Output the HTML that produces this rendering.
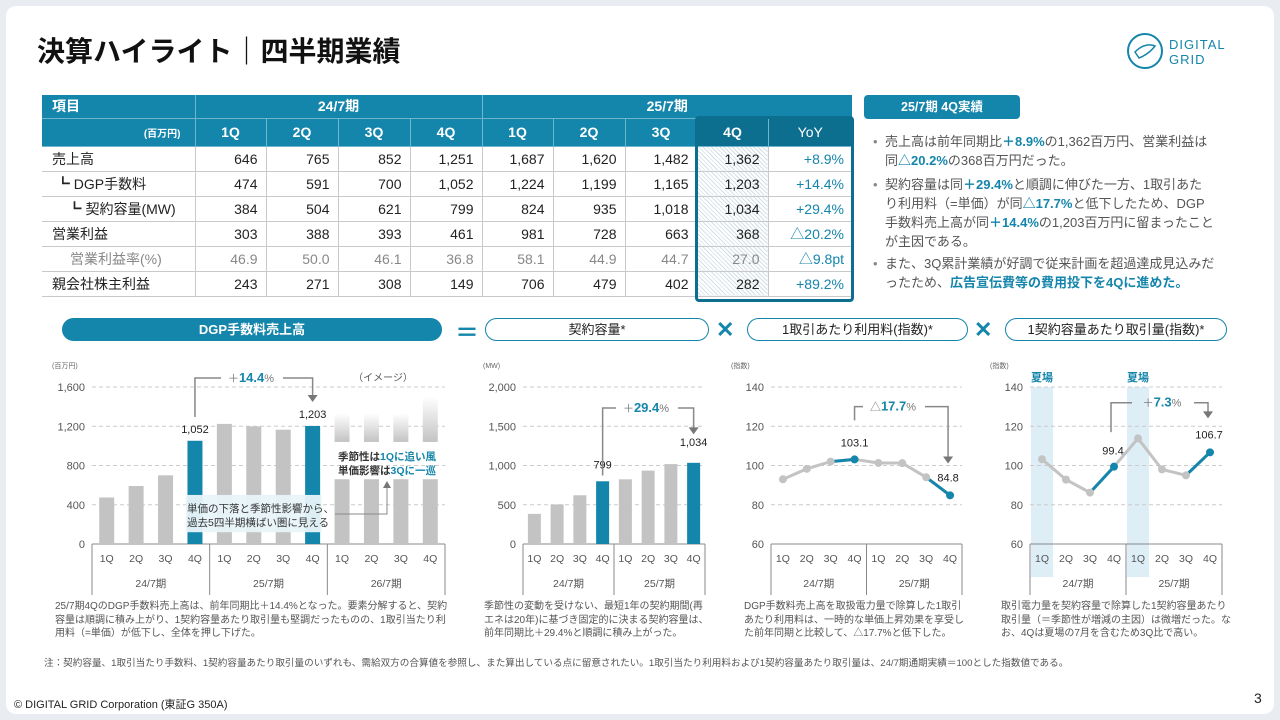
<!DOCTYPE html>
<html><head><meta charset="utf-8">
<style>
*{margin:0;padding:0;box-sizing:border-box}
body{width:1280px;height:720px;background:#e9edf1;font-family:"Liberation Sans","Noto Sans CJK JP",sans-serif;position:relative;overflow:hidden;color:#333}
#card{position:absolute;left:6px;top:6px;width:1268px;height:708px;background:#fff;border-radius:10px}
.abs{position:absolute}
h1{position:absolute;left:37px;top:30px;font-size:28px;font-weight:bold;color:#111;letter-spacing:0px}
table{position:absolute;left:42px;top:95px;border-collapse:collapse;font-size:14px}
td,th{height:25px;border-bottom:1px solid #c9c9c9;border-left:1px solid #c9c9c9;text-align:right;padding-right:8px;font-weight:normal;color:#222}
th{background:#1485ab;color:#fff;font-weight:bold;text-align:center;border-left:1px solid #6fb5cc;border-bottom:1px solid #6fb5cc;padding:0}
tr.h1 th{height:23px}
tr.h2 th{height:28px}
td.l{text-align:left;padding-left:10px;border-left:none}
tr.g td{color:#888}
.pill{position:absolute;top:318px;height:23px;border:1px solid #1485ab;border-radius:12px;font-size:13px;text-align:center;line-height:21px;color:#222}
.desc{position:absolute;top:600px;font-size:10px;line-height:13.5px;color:#555}
.bl{position:absolute;left:873px;font-size:13px;line-height:19px;color:#555;width:342px;padding-left:12px}
.bl:before{content:"•";position:absolute;left:0;color:#888}
.bl b{color:#1485ab}
</style></head><body>
<div id="card"></div>
<h1>決算ハイライト｜四半期業績</h1>
<div class="abs" style="left:1125px;top:30px;width:120px;height:42px">
<svg width="40" height="42" style="position:absolute;left:0;top:0"><circle cx="20" cy="21" r="17" fill="none" stroke="#1485ab" stroke-width="2"/><path d="M10 22 Q20 12 30 16 Q24 24 14 28 Z" fill="none" stroke="#1485ab" stroke-width="1.5"/></svg>
<div style="position:absolute;left:44px;top:7px;font-size:13px;color:#1485ab;line-height:15px;letter-spacing:1px">DIGITAL<br>GRID</div></div>

<table>
<tr class="h1"><th style="text-align:left;padding-left:10px;width:153px;border-left:none">項目</th><th colspan="4">24/7期</th><th colspan="5" style="border-right:none">25/7期</th></tr>
<tr class="h2"><th style="text-align:right;padding-right:14px;font-size:10px;border-left:none">(百万円)</th><th style="width:71px">1Q</th><th style="width:72px">2Q</th><th style="width:72px">3Q</th><th style="width:72px">4Q</th><th style="width:71px">1Q</th><th style="width:72px">2Q</th><th style="width:72px">3Q</th><th style="width:71px;background:#0c6f8f">4Q</th><th style="width:84px;background:#0c6f8f;font-weight:normal">YoY</th></tr>
<tr><td class="l">売上高</td><td>646</td><td>765</td><td>852</td><td>1,251</td><td>1,687</td><td>1,620</td><td>1,482</td><td class="hx">1,362</td><td style="color:#1485ab">+8.9%</td></tr>
<tr><td class="l">&nbsp;┗ DGP手数料</td><td>474</td><td>591</td><td>700</td><td>1,052</td><td>1,224</td><td>1,199</td><td>1,165</td><td class="hx">1,203</td><td style="color:#1485ab">+14.4%</td></tr>
<tr><td class="l">&nbsp;&nbsp;&nbsp;&nbsp;┗ 契約容量(MW)</td><td>384</td><td>504</td><td>621</td><td>799</td><td>824</td><td>935</td><td>1,018</td><td class="hx">1,034</td><td style="color:#1485ab">+29.4%</td></tr>
<tr><td class="l">営業利益</td><td>303</td><td>388</td><td>393</td><td>461</td><td>981</td><td>728</td><td>663</td><td class="hx">368</td><td style="color:#1485ab">△20.2%</td></tr>
<tr class="g"><td class="l" style="padding-left:28px">営業利益率(%)</td><td>46.9</td><td>50.0</td><td>46.1</td><td>36.8</td><td>58.1</td><td>44.9</td><td>44.7</td><td class="hx">27.0</td><td style="color:#1485ab">△9.8pt</td></tr>
<tr><td class="l">親会社株主利益</td><td>243</td><td>271</td><td>308</td><td>149</td><td>706</td><td>479</td><td>402</td><td class="hx">282</td><td style="color:#1485ab">+89.2%</td></tr>
</table>
<style>td.hx{background:repeating-linear-gradient(45deg,#fff 0 2px,#d4e0e6 2px 3px)}</style>
<div class="abs" style="left:695px;top:116px;width:159px;height:186px;border:3px solid #0c6f8f;border-radius:4px"></div>

<div class="abs" style="left:864px;top:95px;width:156px;height:24px;background:#1485ab;border-radius:4px;color:#fff;font-weight:bold;font-size:12.5px;text-align:center;line-height:24px">25/7期 4Q実績</div>
<div class="bl" style="top:132px">売上高は前年同期比<b>＋8.9%</b>の1,362百万円、営業利益は同<b>△20.2%</b>の368百万円だった。</div>
<div class="bl" style="top:175px">契約容量は同<b>＋29.4%</b>と順調に伸びた一方、1取引あたり利用料（=単価）が同<b>△17.7%</b>と低下したため、DGP手数料売上高が同<b>＋14.4%</b>の1,203百万円に留まったことが主因である。</div>
<div class="bl" style="top:254px">また、3Q累計業績が好調で従来計画を超過達成見込みだったため、<b>広告宣伝費等の費用投下を4Qに進めた。</b></div>

<div class="pill" style="left:62px;width:380px;background:#1485ab;color:#fff;font-weight:bold">DGP手数料売上高</div>
<div class="abs" style="left:455px;top:313px;font-size:24px;font-weight:bold;color:#1485ab">＝</div>
<div class="pill" style="left:485px;width:224px">契約容量*</div>
<div class="abs" style="left:716px;top:317px;font-size:22px;font-weight:bold;color:#1485ab">✕</div>
<div class="pill" style="left:747px;width:221px">1取引あたり利用料(指数)*</div>
<div class="abs" style="left:974px;top:317px;font-size:22px;font-weight:bold;color:#1485ab">✕</div>
<div class="pill" style="left:1005px;width:222px">1契約容量あたり取引量(指数)*</div>

<svg id="ch" class="abs" style="left:0;top:0" width="1280" height="720"></svg>

<div class="desc" style="left:55px;width:398px">25/7期4QのDGP手数料売上高は、前年同期比＋14.4%となった。要素分解すると、契約容量は順調に積み上がり、1契約容量あたり取引量も堅調だったものの、1取引当たり利用料（=単価）が低下し、全体を押し下げた。</div>
<div class="desc" style="left:484px;width:225px">季節性の変動を受けない、最短1年の契約期間(再エネは20年)に基づき固定的に決まる契約容量は、前年同期比＋29.4%と順調に積み上がった。</div>
<div class="desc" style="left:744px;width:225px">DGP手数料売上高を取扱電力量で除算した1取引あたり利用料は、一時的な単価上昇効果を享受した前年同期と比較して、△17.7%と低下した。</div>
<div class="desc" style="left:1001px;width:230px">取引電力量を契約容量で除算した1契約容量あたり取引量（＝季節性が増減の主因）は微増だった。なお、4Qは夏場の7月を含むため3Q比で高い。</div>
<div class="abs" style="left:44px;top:655px;font-size:9.6px;color:#555;white-space:nowrap">注：契約容量、1取引当たり手数料、1契約容量あたり取引量のいずれも、需給双方の合算値を参照し、また算出している点に留意されたい。1取引当たり利用料および1契約容量あたり取引量は、24/7期通期実績＝100とした指数値である。</div>
<div class="abs" style="left:14px;top:696px;font-size:11px;color:#222">© DIGITAL GRID Corporation (東証G 350A)</div>
<div class="abs" style="left:1254px;top:690px;font-size:14px;color:#222">3</div>

<script>
const quarters=['1Q','2Q','3Q','4Q'];
const periods1=['24/7期','25/7期','26/7期'];
const periods2=['24/7期','25/7期'];
const dgpFee=[474,591,700,1052,1224,1199,1165,1203];
const dgpTicks=[0,400,800,1200,1600];
const capacity=[384,504,621,799,824,935,1018,1034];
const capTicks=[0,500,1000,1500,2000];
const feeIndex=[93.0,98.3,102.0,103.1,101.3,101.2,94.0,84.8];
const volIndex=[103.2,92.8,86.2,99.4,113.8,98.0,95.0,106.7];
const idxTicks=[60,80,100,120,140];

const S=document.getElementById('ch'),NS='http://www.w3.org/2000/svg';
function mk(tag,at,txt){const e=document.createElementNS(NS,tag);for(const k in at)e.setAttribute(k,at[k]);if(txt!=null)e.textContent=txt;S.appendChild(e);return e;}
const BLUE='#1485ab',GRAY='#c3c3c3';
const Y0=544,YT=387;
function axis(x0,x1,vmin,vmax,ticks,unit,nper,nname,pre){
  const y=v=>Y0-(v-vmin)/(vmax-vmin)*(Y0-YT);
  const n=nper*4,w=(x1-x0)/n;
  const x=i=>x0+w*(i+0.5);
  if(pre)pre(x,y);
  ticks.forEach(t=>{
    if(t!==vmin){const g=mk('line',{x1:x0,x2:x1,y1:y(t),y2:y(t),stroke:'#ccc','stroke-dasharray':'4,3'});
    }
    const l=mk('text',{x:x0-7,y:y(t)+4,'text-anchor':'end','font-size':11,fill:'#555'},t.toLocaleString('en-US'));
    
  });
  const u=mk('text',{x:x0-40,y:368,'font-size':7,fill:'#666'},unit);
  
  mk('line',{x1:x0,x2:x1,y1:Y0,y2:Y0,stroke:'#888'});
  for(let p=0;p<=nper;p++){const xx=x0+p*4*w;mk('line',{x1:xx,x2:xx,y1:Y0,y2:595,stroke:'#888'});}
  for(let i=0;i<n;i++){const t=mk('text',{x:x(i),y:562,'text-anchor':'middle','font-size':10.5,fill:'#555'},quarters[i%4]);
    }
  const pl=nper===3?periods1:periods2;
  for(let p=0;p<nper;p++){const t=mk('text',{x:x0+(p*4+2)*w,y:587,'text-anchor':'middle','font-size':10.5,fill:'#555'},pl[p]);
    }
  return {x,y,w};
}
function bracket(xa,ya,xb,yb,yTop,label,num,cx,nname){
  const p=mk('path',{d:`M${xa} ${ya} V${yTop} H${cx-30} M${cx+32} ${yTop} H${xb} V${yb-6}`,fill:'none',stroke:'#888','stroke-width':1.5});
  
  mk('path',{d:`M${xb-5} ${yb-7} L${xb+5} ${yb-7} L${xb} ${yb} Z`,fill:'#777'});
  const t=mk('text',{x:cx,y:yTop+4,'text-anchor':'middle','font-size':11,fill:'#777'});
  
  const a=document.createElementNS(NS,'tspan');a.textContent=label;t.appendChild(a);
  const b=document.createElementNS(NS,'tspan');b.setAttribute('font-size',13);b.setAttribute('font-weight','bold');b.setAttribute('fill',BLUE);b.textContent=num;t.appendChild(b);
  const c=document.createElementNS(NS,'tspan');c.textContent='%';t.appendChild(c);
}
// chart 1
(function(){
  const a=axis(92,445,0,1600,dgpTicks,'(百万円)',3,'dgp-chart');
  const bw=15;
  dgpFee.forEach((v,i)=>{const r=mk('rect',{x:a.x(i)-bw/2,y:a.y(v),width:bw,height:Y0-a.y(v),fill:(i%4===3)?BLUE:GRAY});
    });
  mk('defs',{}).innerHTML='<linearGradient id="fg" x1="0" y1="1" x2="0" y2="0"><stop offset="0" stop-color="#c3c3c3"/><stop offset="1" stop-color="#fff"/></linearGradient>';
  [1330,1330,1330,1500].forEach((v,k)=>{const i=8+k;
    const r=mk('rect',{x:a.x(i)-bw/2,y:a.y(660),width:bw,height:Y0-a.y(660),fill:GRAY});
    
    mk('rect',{x:a.x(i)-bw/2,y:a.y(v),width:bw,height:a.y(1040)-a.y(v),fill:'url(#fg)'});});
  mk('rect',{x:a.x(3)-9,y:a.y(500),width:a.x(7)-a.x(3)+18,height:a.y(120)-a.y(500),fill:'#e8f4f9',opacity:0.95});
  const l1=mk('text',{x:187,y:512,'font-size':10.5,fill:'#333'},'単価の下落と季節性影響から、');
  const l2=mk('text',{x:187,y:526,'font-size':10.5,fill:'#333'},'過去5四半期横ばい圏に見える');
  
  mk('path',{d:'M335 514 H387 V485',fill:'none',stroke:'#888','stroke-width':1});
  mk('path',{d:'M383 488 L391 488 L387 481 Z',fill:'#777'});
  const t1=mk('text',{x:338,y:460,'font-size':10.5,fill:'#333','font-weight':'bold'});t1.innerHTML='季節性は<tspan fill="'+BLUE+'">1Qに追い風</tspan>';
  const t2=mk('text',{x:338,y:474,'font-size':10.5,fill:'#333','font-weight':'bold'});t2.innerHTML='単価影響は<tspan fill="'+BLUE+'">3Qに一巡</tspan>';
  
  mk('text',{x:383,y:381,'text-anchor':'middle','font-size':10,fill:'#555'},'（イメージ）');
  [[3,'1,052'],[7,'1,203']].forEach(([i,s])=>{const t=mk('text',{x:a.x(i),y:a.y(dgpFee[i])-8,'text-anchor':'middle','font-size':11,fill:'#222'},s);
    });
  bracket(a.x(3),a.y(1600)+30,a.x(7),a.y(1600)+15,378,'＋','14.4',251,'dgp-chart');
})();
// chart 2
(function(){
  const a=axis(523,705,0,2000,capTicks,'(MW)',2,'capacity-chart');
  capacity.forEach((v,i)=>{const r=mk('rect',{x:a.x(i)-6.5,y:a.y(v),width:13,height:Y0-a.y(v),fill:(i%4===3)?BLUE:GRAY});
    });
  [3,7].forEach(i=>{const t=mk('text',{x:a.x(i),y:a.y(capacity[i])-(i===3?13:17),'text-anchor':'middle','font-size':11,fill:'#222'},capacity[i].toLocaleString('en-US'));
    });
  bracket(a.x(3),a.y(1000)+10,a.x(7),a.y(1600)+16,408,'＋','29.4',646,'capacity-chart');
})();
function lineChart(x0,x1,vals,nname,summer){
  const pre=summer?(x,y)=>{[0,4].forEach(i=>{const r=mk('rect',{x:x(i)-11,y:YT,width:22,height:577-YT,fill:'#ddeef6'});
    
    const t=mk('text',{x:x(i),y:381,'text-anchor':'middle','font-size':11,'font-weight':'bold',fill:BLUE},'夏場');
    });}:null;
  const a=axis(x0,x1,60,140,idxTicks,'(指数)',2,nname,pre);
  const pts=vals.map((v,i)=>a.x(i)+','+a.y(v)).join(' ');
  const pl=mk('polyline',{points:pts,fill:'none',stroke:GRAY,'stroke-width':3});
  
  [2,6].forEach(i=>mk('line',{x1:a.x(i),y1:a.y(vals[i]),x2:a.x(i+1),y2:a.y(vals[i+1]),stroke:BLUE,'stroke-width':3}));
  vals.forEach((v,i)=>{const c=mk('circle',{cx:a.x(i),cy:a.y(v),r:4,fill:(i%4===3)?BLUE:GRAY});
    });
  return a;
}
(function(){
  const a=lineChart(771,962,feeIndex,'fee-index-chart',false);
  const t=mk('text',{x:a.x(3),y:a.y(feeIndex[3])-13,'text-anchor':'middle','font-size':11,fill:'#222'},feeIndex[3].toFixed(1));
  
  const t2=mk('text',{x:a.x(7)-2,y:a.y(feeIndex[7])-14,'text-anchor':'middle','font-size':11,fill:'#222'},feeIndex[7].toFixed(1));
  
  bracket(a.x(3),a.y(123),a.x(7)-2,a.y(101),a.y(130),'△','17.7',893,'fee-index-chart');
})();
(function(){
  const a=lineChart(1030,1222,volIndex,'volume-index-chart',true);
  const t=mk('text',{x:a.x(3)-1,y:a.y(volIndex[3])-12,'text-anchor':'middle','font-size':11,fill:'#222'},volIndex[3].toFixed(1));
  
  const t2=mk('text',{x:a.x(7)-1,y:a.y(volIndex[7])-14,'text-anchor':'middle','font-size':11,fill:'#222'},volIndex[7].toFixed(1));
  
  bracket(a.x(3)-3,a.y(117),a.x(7)-2,a.y(124),a.y(132),'＋','7.3',1162,'volume-index-chart');
})();
</script>
</body></html>
